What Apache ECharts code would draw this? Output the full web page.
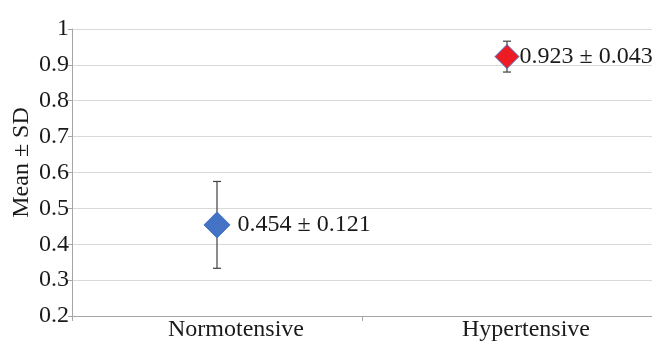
<!DOCTYPE html>
<html><head><meta charset="utf-8">
<script src="https://cdn.jsdelivr.net/npm/echarts@6/dist/echarts.min.js"></script>
<style>html,body{margin:0;padding:0;background:#fff}#c{width:652px;height:345px}</style>
</head><body><div id="c"></div>
<script>
var categories = ['Normotensive', 'Hypertensive'];
var means = [0.454, 0.923];
var sds = [0.121, 0.043];
var labels = ['0.454 ± 0.121', '0.923 ± 0.043'];
var yTicks = [0.2, 0.3, 0.4, 0.5, 0.6, 0.7, 0.8, 0.9, 1];

var FONT = '"Liberation Serif", "Times New Roman", serif';
var TXT = '#1a1a1a';
var chart = echarts.init(document.getElementById('c'));
var errData = categories.map(function (c, i) { return [i, means[i] - sds[i], means[i] + sds[i]]; });
chart.setOption({
  animation: false,
  grid: { left: 72, right: 0, top: 29, bottom: 29, containLabel: false, outerBoundsMode: 'none' },
  xAxis: {
    type: 'category', data: categories, boundaryGap: true,
    axisLine: { lineStyle: { color: '#a6a6a6', width: 1 } },
    axisTick: { show: true, length: 5, lineStyle: { color: '#a6a6a6' } },
    axisLabel: { color: TXT, fontFamily: FONT, fontSize: 24, margin: 2, padding: [0, 0, 0, 38] }
  },
  yAxis: {
    type: 'value', min: yTicks[0], max: yTicks[yTicks.length - 1], interval: 0.1,
    name: 'Mean ± SD', nameLocation: 'middle', nameGap: 38, nameMoveOverlap: false,
    nameTextStyle: { color: TXT, fontFamily: FONT, fontSize: 24, padding: [0, 0, 0, 20] },
    axisLine: { show: true, lineStyle: { color: '#a6a6a6', width: 1 } },
    axisTick: { show: true, length: 4, inside: false, lineStyle: { color: '#a6a6a6' } },
    axisLabel: { color: TXT, fontFamily: FONT, fontSize: 24, margin: 3,
      formatter: function (v) { return String(Math.round(v * 10) / 10); } },
    splitLine: { lineStyle: { color: '#d9d9d9', width: 1 } }
  },
  series: [
    {
      type: 'custom',
      data: errData,
      renderItem: function (params, api) {
        var x = api.value(0);
        var lo = api.coord([x, api.value(1)]);
        var hi = api.coord([x, api.value(2)]);
        var w = 4;
        var st = { stroke: '#404040', lineWidth: 1.2 };
        return { type: 'group', children: [
          { type: 'line', shape: { x1: lo[0], y1: lo[1], x2: hi[0], y2: hi[1] }, style: st },
          { type: 'line', shape: { x1: lo[0] - w, y1: lo[1], x2: lo[0] + w, y2: lo[1] }, style: st },
          { type: 'line', shape: { x1: hi[0] - w, y1: hi[1], x2: hi[0] + w, y2: hi[1] }, style: st }
        ] };
      },
      z: 2
    },
    {
      type: 'scatter',
      symbol: 'diamond',
      data: [
        { value: [0, means[0]], symbolSize: [26, 26], itemStyle: { color: '#4472c4', borderColor: '#4472c4', borderWidth: 1, opacity: 1 },
          label: { formatter: labels[0], distance: 7 } },
        { value: [1, means[1]], symbolSize: [24, 24], itemStyle: { color: '#ed1c24', borderColor: '#4472c4', borderWidth: 1, opacity: 1 },
          label: { formatter: labels[1], distance: 0 } }
      ],
      label: { show: true, position: 'right', color: TXT, fontFamily: FONT, fontSize: 24 },
      z: 3
    }
  ]
});
</script></body></html>
